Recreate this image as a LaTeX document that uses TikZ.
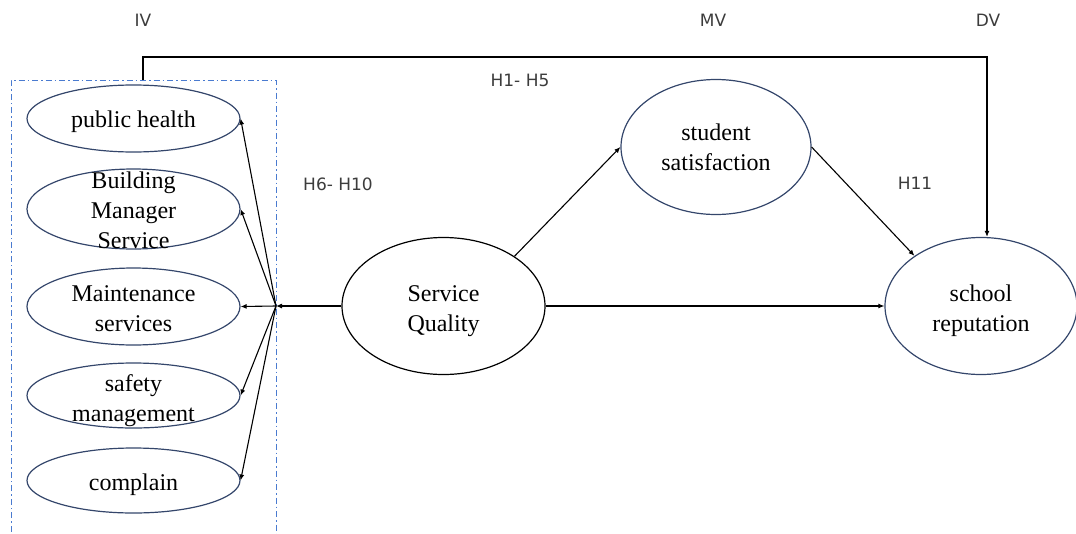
\documentclass[tikz,border=0pt]{standalone}
\usepackage{fontspec}
\setmainfont{Liberation Serif}
\newfontfamily\labelfont{DejaVu Sans}
\usetikzlibrary{arrows.meta,shapes.geometric}
\definecolor{ringblue}{HTML}{34466B}
\definecolor{boxblue}{HTML}{4A7BD0}
\definecolor{hlabel}{HTML}{3C3C3C}
\begin{document}
\begin{tikzpicture}[x=1pt,y=-1pt,
  construct/.style={ellipse, draw=ringblue, line width=1.2pt, inner sep=0pt},
  plainring/.style={ellipse, draw=black, line width=1.2pt, inner sep=0pt},
  ctext/.style={align=center, inner sep=0pt, font=\fontsize{24}{30}\selectfont},
  tag/.style={font=\labelfont\fontsize{17}{20}\selectfont, text=hlabel, inner sep=0pt},
  link/.style={line width=1.1pt, -{Latex[length=6pt,width=5pt]}},
]
\useasboundingbox (0,0) rectangle (1076,533);

% column headings
\node[tag] (iv) at (143,20) {IV};
\node[tag] (mv) at (713,20) {MV};
\node[tag] (dv) at (988,20) {DV};

% hypothesis labels
\node[tag] (h15) at (520,80) {H1- H5};
\node[tag] (h610) at (338,184) {H6- H10};
\node[tag] (h11) at (915,183) {H11};

% dash-dotted frame around the service dimensions
\draw[boxblue, line width=0.9pt, dash pattern=on 6pt off 3pt on 1.5pt off 3pt]
  (11,545) -- (11,80) -- (276,80) -- (276,545);
\coordinate (ivtop) at (143,80);

% service dimensions
\node[construct, minimum width=213pt, minimum height=67pt,
  label={[ctext, yshift=-3pt]center:{public health}}] (ph) at (133.5,118.5) {};
\node[construct, minimum width=213pt, minimum height=80pt,
  label={[ctext, yshift=-1.5pt]center:{Building\\Manager\\Service}}] (bm) at (133.5,209) {};
\node[construct, minimum width=213pt, minimum height=77pt,
  label={[ctext, yshift=-2pt]center:{Maintenance\\services}}] (ms) at (133.5,306.5) {};
\node[construct, minimum width=213pt, minimum height=65pt,
  label={[ctext, yshift=-5pt]center:{safety\\management}}] (sm) at (133.5,395.5) {};
\node[construct, minimum width=213pt, minimum height=65pt,
  label={[ctext, yshift=-4pt]center:{complain}}] (cp) at (133.5,480.5) {};

% main constructs
\node[plainring, minimum width=203pt, minimum height=137pt,
  label={[ctext, yshift=-5pt]center:{Service\\Quality}}] (sq) at (443.5,306) {};
\node[construct, minimum width=190pt, minimum height=135pt,
  label={[ctext]center:{student\\satisfaction}}] (ss) at (716,147) {};
\node[construct, minimum width=192pt, minimum height=137pt,
  label={[ctext, yshift=-5pt]center:{school\\reputation}}] (sr) at (981,306) {};

% paths
\coordinate (hub) at (276,306);
\coordinate (corner) at (987,57);
\draw[link] (sq) -- (hub);
\foreach \n in {ph,bm,ms,sm,cp} \draw[link] (hub) -- (\n.east);
\draw[link] (sq.35) -- (ss.west);
\draw[link] (ss.east) -- (sr.143);
\draw[link] (sq) -- (sr);
\draw[link] (ivtop) |- (corner) -- (sr.north -| corner);
\end{tikzpicture}
\end{document}
